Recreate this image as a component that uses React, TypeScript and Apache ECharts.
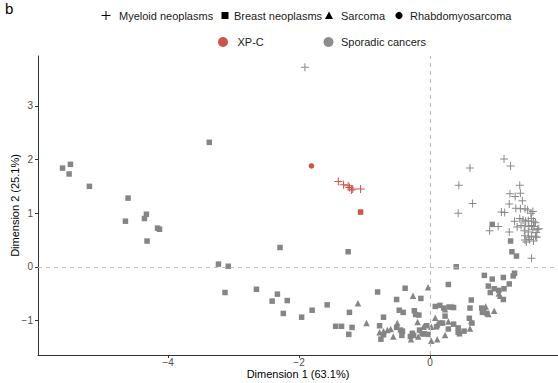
import React, { useEffect, useRef } from "react";
import * as echarts from "echarts";

const FONT = "'Liberation Sans', Arial, Helvetica, sans-serif";

// Axis ticks
const xTicks = [-4, -2, 0];
const yTicks = [-1, 0, 1, 2, 3];

// Sporadic cancers – Breast neoplasms (squares)
const sporadicBreast: [number, number][] = [
  [-5.61, 1.84], [-5.49, 1.91], [-5.51, 1.73], [-5.2, 1.5], [-4.61, 1.28],
  [-4.65, 0.85], [-4.33, 0.98], [-4.36, 0.9], [-4.16, 0.72], [-4.13, 0.7],
  [-4.32, 0.48], [-3.37, 2.32], [-2.29, 0.36], [-3.23, 0.05], [-3.08, 0.01],
  [-3.13, -0.48], [-2.65, -0.42], [-2.33, -0.51], [-2.41, -0.64], [-2.18, -0.63],
  [-2.24, -0.87], [-1.96, -0.94], [-1.8, -0.81], [-1.57, -0.71], [-1.44, -1.11],
  [-1.35, -1.11], [-1.24, -1.26], [-1.23, -0.85], [-1.25, 0.28], [-1.19, -1.13],
  [-0.8, -0.47], [-0.71, -0.94], [-0.77, -1.1], [-0.75, -1.35], [-0.71, -1.27],
  [-0.51, -0.61], [-0.47, -0.81], [-0.41, -0.85], [-0.51, -1.13], [-0.45, -1.18],
  [-0.42, -1.2], [-0.43, -1.28], [-0.38, -0.4], [-0.14, -0.59], [-0.24, -0.82],
  [-0.17, -0.9], [-0.22, -0.89], [-0.16, -1.18], [-0.27, -1.24], [-0.3, -1.3],
  [-0.25, -1.28], [-0.12, -1.25], [0.4, 0.0], [0.28, -0.33], [0.83, -0.16],
  [0.95, -0.23], [1.12, -0.2], [1.27, -0.17], [1.29, -0.12], [1.21, -0.32],
  [0.89, -0.36], [0.98, -0.41], [1.05, -0.44], [1.13, -0.41], [0.92, -0.48],
  [1.12, -0.61], [0.63, -0.62], [0.61, -0.77], [0.79, -0.77], [0.82, -0.81],
  [0.8, -0.85], [0.87, -0.87], [0.08, -0.74], [0.15, -0.72], [0.21, -0.77],
  [0.29, -0.75], [0.36, -0.76], [0.23, -0.92], [0.16, -1.05], [0.19, -1.05],
  [0.36, -1.07], [0.43, -1.14], [0.6, -0.96], [0.64, -1.05], [0.43, -1.22],
  [0.45, -1.25], [0.52, -1.2], [0.28, -1.16], [-0.05, -1.1], [-0.03, -1.26],
  [-0.09, -1.25], [0.1, -1.12], [1.32, 0.2], [1.25, 0.28], [0.95, 0.79],
  [1.23, 0.48],
];

// Sporadic cancers – Sarcoma (triangles)
const sporadicSarcoma: [number, number][] = [
  [-1.1, -0.68], [-0.97, -1.05], [-0.77, -1.22], [-0.71, -1.2], [-0.65, -1.18],
  [-0.6, -1.16], [-0.56, -1.3], [-0.5, -1.05], [-0.26, -0.54], [-0.19, -1.03],
  [-0.29, -1.35], [-0.18, -1.3], [-0.1, -1.12], [-0.03, -0.38], [0.02, -1.12],
  [0.02, -1.38], [0.08, -0.95], [0.11, -1.07], [0.11, -1.35], [0.23, -0.79],
  [0.35, -0.74], [0.28, -1.02], [0.23, -1.27], [0.61, -1.15], [0.63, -1.01],
  [0.85, -0.74], [0.89, -0.88], [0.98, -0.82], [1.05, -0.5], [1.07, -0.54],
];

// Sporadic cancers – Myeloid neoplasms (plus)
const sporadicMyeloid: [number, number][] = [
  [-1.91, 3.72], [1.13, 2.01], [1.23, 1.88], [0.61, 1.84], [0.44, 1.52],
  [0.65, 1.18], [0.43, 1.0], [1.37, 1.52], [1.22, 1.36], [1.3, 1.31],
  [1.38, 1.37], [1.41, 1.23], [1.21, 1.17], [1.09, 1.02], [1.14, 1.01],
  [1.31, 1.09], [1.38, 1.08], [1.45, 1.08], [1.49, 1.06], [1.54, 1.0],
  [1.57, 1.03], [1.29, 0.85], [1.37, 0.9], [1.42, 0.87], [1.46, 0.85],
  [1.5, 0.86], [1.55, 0.9], [1.58, 0.85], [1.61, 0.82], [1.33, 0.74],
  [1.39, 0.77], [1.45, 0.76], [1.51, 0.75], [1.55, 0.77], [1.59, 0.75],
  [1.64, 0.7], [1.04, 0.75], [0.91, 0.67], [1.21, 0.65], [1.44, 0.67],
  [1.5, 0.65], [1.57, 0.69], [1.62, 0.64], [1.66, 0.71], [1.45, 0.58],
  [1.5, 0.55], [1.55, 0.57], [1.61, 0.57], [1.45, 0.5], [1.52, 0.51],
  [1.58, 0.48], [1.63, 0.55], [1.47, 0.46], [1.55, 0.16],
];

// XP-C patients
const xpcMyeloid: [number, number][] = [
  [-1.4, 1.59], [-1.32, 1.53], [-1.25, 1.51], [-1.23, 1.48], [-1.2, 1.43],
  [-1.18, 1.45], [-1.06, 1.45],
];
const xpcBreast: [number, number][] = [[-1.06, 1.02]];
const xpcRhabdo: [number, number][] = [[-1.81, 1.88]];

const GREY = "#858585";
const RED = "#CD534C";
const PLUS = "path://M3.5,0H4.5V3.5H8V4.5H4.5V8H3.5V4.5H0V3.5H3.5Z";

const fmt = (v: number) => (v < 0 ? "\u2212" + Math.abs(v) : String(v));

function legendText(text: string, x: number, y: number) {
  return {
    type: "text",
    x,
    y,
    style: { text, fontSize: 11, fontFamily: FONT, fill: "#1a1a1a", verticalAlign: "middle", align: "left" },
  };
}

export default function App() {
  const ref = useRef<HTMLDivElement>(null);
  useEffect(() => {
    if (!ref.current) return;
    const chart = echarts.init(ref.current, undefined, { renderer: "svg" });
    const axisCommon = {
      type: "value",
      splitLine: { show: false },
      axisLine: { show: true, onZero: false, lineStyle: { color: "#333", width: 1 } },
      nameLocation: "middle",
      nameMoveOverlap: false,
      nameTextStyle: { fontSize: 11, color: "#000", fontFamily: FONT },
    };
    const scatter = (name: string, data: [number, number][], symbol: string, size: number, color: string, extra: any = {}) => ({
      type: "scatter",
      name,
      data,
      symbol,
      symbolSize: size,
      itemStyle: { color, opacity: 1 },
      emphasis: { disabled: true },
      silent: true,
      ...extra,
    });
    chart.setOption({
      animation: false,
      backgroundColor: "#fff",
      grid: { left: 38, right: 0, top: 56, bottom: 28, containLabel: false, outerBoundsMode: "none" },
      xAxis: {
        ...axisCommon,
        min: -5.985,
        max: 1.954,
        name: "Dimension 1 (63.1%)",
        nameGap: 13,
        axisTick: { show: true, length: 3, customValues: xTicks, lineStyle: { color: "#333" } },
        axisLabel: { customValues: xTicks, formatter: fmt, color: "#4d4d4d", fontSize: 10, margin: 2, fontFamily: FONT },
      },
      yAxis: {
        ...axisCommon,
        min: -1.645,
        max: 3.93,
        name: "Dimension 2 (25.1%)",
        nameGap: 18,
        axisTick: { show: true, length: 3, customValues: yTicks, lineStyle: { color: "#333" } },
        axisLabel: { customValues: yTicks, formatter: fmt, color: "#4d4d4d", fontSize: 10, margin: 5, fontFamily: FONT },
      },
      series: [
        scatter("Sporadic breast", sporadicBreast, "rect", 5.5, GREY, {
          markLine: {
            silent: true,
            symbol: ["none", "none"],
            label: { show: false },
            lineStyle: { type: [4, 4], color: "#bdbdbd", width: 1 },
            emphasis: { disabled: true },
            data: [{ xAxis: 0 }, { yAxis: 0 }],
          },
        }),
        scatter("Sporadic sarcoma", sporadicSarcoma, "triangle", 6.5, GREY),
        scatter("Sporadic myeloid", sporadicMyeloid, PLUS, 8, "#8a8a8a"),
        scatter("XP-C myeloid", xpcMyeloid, PLUS, 8, RED),
        scatter("XP-C breast", xpcBreast, "rect", 5.5, RED),
        scatter("XP-C rhabdo", xpcRhabdo, "circle", 5.5, RED),
      ],
      graphic: [
        { type: "text", x: 5, y: 1, style: { text: "b", fontSize: 15, fontFamily: FONT, fill: "#000" } },
        // Row 1
        {
          type: "group",
          x: 106,
          y: 15.5,
          children: [
            { type: "line", shape: { x1: -4.5, y1: 0, x2: 4.5, y2: 0 }, style: { stroke: "#000", lineWidth: 1 } },
            { type: "line", shape: { x1: 0, y1: -4.5, x2: 0, y2: 4.5 }, style: { stroke: "#000", lineWidth: 1 } },
          ],
        },
        legendText("Myeloid neoplasms", 119, 15.5),
        { type: "rect", shape: { x: 221.5, y: 12, width: 7, height: 7 }, style: { fill: "#000" } },
        legendText("Breast neoplasms", 234, 15.5),
        { type: "polygon", shape: { points: [[329, 11.5], [333, 19], [325, 19]] }, style: { fill: "#000" } },
        legendText("Sarcoma", 341, 15.5),
        { type: "circle", shape: { cx: 399, cy: 15.5, r: 3.6 }, style: { fill: "#000" } },
        legendText("Rhabdomyosarcoma", 410, 15.5),
        // Row 2
        { type: "circle", shape: { cx: 223, cy: 42, r: 5 }, style: { fill: RED } },
        legendText("XP-C", 237.5, 42),
        { type: "circle", shape: { cx: 328.5, cy: 42, r: 5 }, style: { fill: "#8c8c8c" } },
        legendText("Sporadic cancers", 341, 42),
      ],
    });
    return () => chart.dispose();
  }, []);
  return (
    <div
      ref={ref}
      style={{ position: "absolute", left: 0, top: 0, width: 558, height: 383, background: "#fff" }}
    />
  );
}
